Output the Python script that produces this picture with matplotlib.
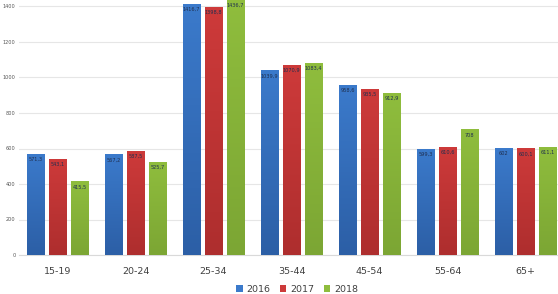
import matplotlib
matplotlib.use("Agg")
import matplotlib.pyplot as plt
import numpy as np
from matplotlib.colors import to_rgb, LinearSegmentedColormap

categories = ["15-19", "20-24", "25-34", "35-44", "45-54", "55-64", "65+"]
series_names = ["2016", "2017", "2018"]
v2016 = [571.3, 567.2, 1416.7, 1039.9, 958.6, 599.3, 602.0]
v2017 = [543.1, 587.5, 1398.8, 1070.9, 935.5, 610.6, 600.1]
v2018 = [415.5, 525.7, 1436.7, 1083.4, 912.9, 708.0, 611.1]
labels2016 = ["571,3", "567,2", "1416,7", "1039,9", "958,6", "599,3", "602"]
labels2017 = ["543,1", "587,5", "1398,8", "1070,9", "935,5", "610,6", "600,1"]
labels2018 = ["415,5", "525,7", "1436,7", "1083,4", "912,9", "708", "611,1"]
yticks = [0, 200, 400, 600, 800, 1000, 1200, 1400]

colors = ["#3B7ACB", "#CD3A3A", "#8FBD3D"]
dark = ["#2C5FA6", "#AE2E2E", "#7CA634"]

fig = plt.figure(figsize=(5.58, 2.94), dpi=100)
ax = fig.add_axes([18.5/558, 1-255/294, 546/558, 255.6/294])
ax.set_xlim(-0.5, len(categories)-0.5)
ax.set_ylim(0, 1440)

x = np.arange(len(categories))
w = 0.225
step = 0.28
allvals = [v2016, v2017, v2018]
alllabels = [labels2016, labels2017, labels2018]
grad = np.linspace(0, 1, 64).reshape(-1, 1)
for i, (vals, labs, c, d, name) in enumerate(zip(allvals, alllabels, colors, dark, series_names)):
    bars = ax.bar(x + (i-1)*step, vals, width=w, color=c, label=name, zorder=3)
    cmap = LinearSegmentedColormap.from_list("g%d" % i, [to_rgb(d), to_rgb(c)])
    for b, lab in zip(bars, labs):
        x0, y0 = b.get_x(), b.get_y()
        im = ax.imshow(grad, cmap=cmap, aspect="auto", origin="lower",
                       extent=(x0, x0 + b.get_width(), y0, y0 + b.get_height()),
                       zorder=3.5)
        im.set_clip_path(b)
        ax.text(x0 + b.get_width()/2, b.get_height() - 18, lab,
                ha="center", va="top", fontsize=3.6, color="#1f2f4f", zorder=4)
ax.set_xlim(-0.5, len(categories)-0.5)
ax.set_ylim(0, 1440)
ax.set_aspect("auto")

ax.set_yticks(yticks)
ax.set_yticklabels([str(t) for t in yticks], fontsize=3.6, color="#555555")
ax.yaxis.grid(True, color="#e6e6e6", linewidth=0.8, zorder=0)
ax.set_xticks(x)
ax.set_xticklabels(categories, fontsize=6.8, color="#404040")
ax.tick_params(axis="both", length=0)
ax.tick_params(axis="x", pad=9)
ax.tick_params(axis="y", pad=2)
for s in ["top", "right", "left"]:
    ax.spines[s].set_visible(False)
ax.spines["bottom"].set_color("#d9d9d9")
ax.spines["bottom"].set_linewidth(0.8)

leg = fig.legend(loc="center", bbox_to_anchor=(297/558, 1-289/294), ncol=3,
                 frameon=False, fontsize=6.8, handlelength=0.7, handleheight=0.7,
                 handletextpad=0.4, columnspacing=1.0)
for t in leg.get_texts():
    t.set_color("#404040")

fig.savefig("out.png", dpi=100)
